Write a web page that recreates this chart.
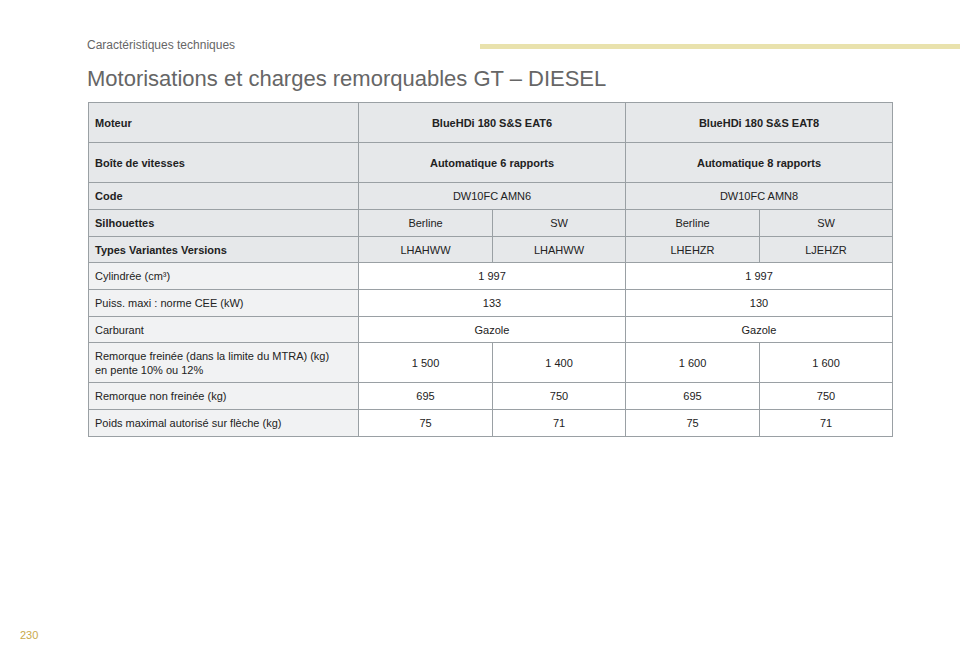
<!DOCTYPE html>
<html><head><meta charset="utf-8">
<script src="https://cdn.jsdelivr.net/npm/chart.js@4.4.0/dist/chart.umd.min.js"></script>
<style>
body{margin:0;width:960px;height:649px;background:#fff;font-family:"Liberation Sans",Arial,sans-serif;position:relative;overflow:hidden}
#hdr{position:absolute;left:87px;top:38px;font-size:12px;color:#666}
#bar{position:absolute;left:480px;top:44px;width:480px;height:5px;background:#e9e2ad}
#title{position:absolute;left:87px;top:66px;font-size:22px;color:#666}
#pg{position:absolute;left:20px;top:629px;font-size:11px;color:#c9a94a}
table{position:absolute;left:88px;top:102px;border-collapse:collapse;font-size:11px;color:#222;table-layout:fixed}
td{border:1px solid #9aa0a4;padding:0 6px;text-align:center;line-height:14px}
td.f{text-align:left}
tr.g td{background:#e6e8ea}
td.l{background:#f1f2f3}
.b{font-weight:bold}
</style></head><body>
<div id="hdr">Caractéristiques techniques</div><div id="bar"></div>
<div id="title">Motorisations et charges remorquables GT – DIESEL</div>
<div id="pg">230</div>
<table id="t"></table>
<script>
const colWidths=[270,134,133,134,133];
const rowHeights=[40,40,27,27,26,27,27,26,40,27,27];
const headerRows=[
 ["Moteur","BlueHDi 180 S&S EAT6","BlueHDi 180 S&S EAT8"],
 ["Boîte de vitesses","Automatique 6 rapports","Automatique 8 rapports"]
];
const codeRow=["Code","DW10FC AMN6","DW10FC AMN8"];
const silhouettes=["Silhouettes","Berline","SW","Berline","SW"];
const versions=["Types Variantes Versions","LHAHWW","LHAHWW","LHEHZR","LJEHZR"];
const pairRows=[
 ["Cylindrée (cm³)","1 997","1 997"],
 ["Puiss. maxi : norme CEE (kW)","133","130"],
 ["Carburant","Gazole","Gazole"]
];
const quadRows=[
 ["Remorque freinée (dans la limite du MTRA) (kg)<br>en pente 10% ou 12%","1 500","1 400","1 600","1 600"],
 ["Remorque non freinée (kg)","695","750","695","750"],
 ["Poids maximal autorisé sur flèche (kg)","75","71","75","71"]
];
const t=document.getElementById('t');
let cg='<colgroup>'+colWidths.map(w=>`<col style="width:${w}px">`).join('')+'</colgroup>';
let h=cg,r=0;
const row=(cells,cls,firstBold,allBold)=>{
 let s=`<tr class="${cls}" style="height:${rowHeights[r++]}px">`;
 cells.forEach((c,i)=>{
  const span=cells.length===3&&i>0?' colspan="2"':'';
  const c1=i===0?'f'+(firstBold?' b':'')+(cls?'':' l'):(allBold?'b':'');
  s+=`<td class="${c1}"${span}>${c}</td>`;
 });
 return s+'</tr>';
};
headerRows.forEach(x=>h+=row(x,'g',true,true));
h+=row(codeRow,'g',true,false);
h+=row(silhouettes,'g',true,false);
h+=row(versions,'g',true,false);
pairRows.forEach(x=>h+=row(x,'',false,false));
quadRows.forEach(x=>h+=row(x,'',false,false));
t.innerHTML=h;
</script>
</body></html>
